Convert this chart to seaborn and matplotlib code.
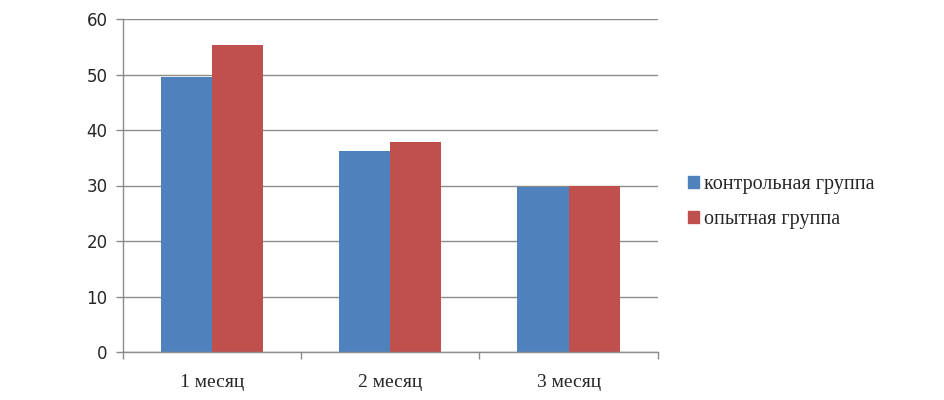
import matplotlib
matplotlib.use("Agg")
import matplotlib.pyplot as plt
import pandas as pd
import seaborn as sns

months = ["1 месяц", "2 месяц", "3 месяц"]
groups = ["контрольная группа", "опытная группа"]
control = [49.5, 36.2, 29.8]
experimental = [55.4, 37.8, 29.9]
colors = ["#4F81BD", "#C0504D"]

df = pd.DataFrame({
    "month": months * 2,
    "group": [groups[0]] * 3 + [groups[1]] * 3,
    "value": control + experimental,
})

sns.set_style("white", {"xtick.bottom": True, "ytick.left": True})
fig = plt.figure(figsize=(9.45, 4), dpi=100)
ax = fig.add_axes([0.130, 0.12, 0.566, 0.8325])

sns.barplot(data=df, x="month", y="value", hue="group", palette=colors,
            width=0.573, gap=0, saturation=1, linewidth=0, ax=ax,
            legend=False, errorbar=None)

ax.set_xlim(-0.5, 2.5)
ax.set_ylim(0, 60)
ax.set_yticks(range(0, 61, 10))
ax.yaxis.grid(True, color="#8c8c8c", linewidth=1)
ax.set_axisbelow(True)
ax.set_xlabel("")
ax.set_ylabel("")

for side in ["top", "right"]:
    ax.spines[side].set_visible(False)
for side in ["left", "bottom"]:
    ax.spines[side].set_color("#8c8c8c")
    ax.spines[side].set_linewidth(1)

ax.set_xticks([-0.5, 0.5, 1.5, 2.5], minor=True)
ax.tick_params(axis="x", which="major", length=0, pad=16)
ax.tick_params(axis="x", which="minor", bottom=True, length=5, width=1,
               color="#8c8c8c", direction="out")
ax.tick_params(axis="y", left=True, length=5, width=1, color="#8c8c8c",
               direction="out", pad=6)
for lab in ax.get_xticklabels():
    lab.set_fontfamily("Liberation Serif")
    lab.set_fontsize(14)
for lab in ax.get_yticklabels():
    lab.set_fontfamily("DejaVu Sans")
    lab.set_fontsize(12)

handles = [plt.Rectangle((0, 0), 1, 1, color=c) for c in colors]
fig.legend(handles, groups, loc="center left", bbox_to_anchor=(0.709, 0.495),
           frameon=False, handlelength=0.55, handleheight=0.55, handletextpad=0.25,
           labelspacing=0.8, prop={"family": "Liberation Serif", "size": 14.5})

fig.savefig("out.png", dpi=100)
